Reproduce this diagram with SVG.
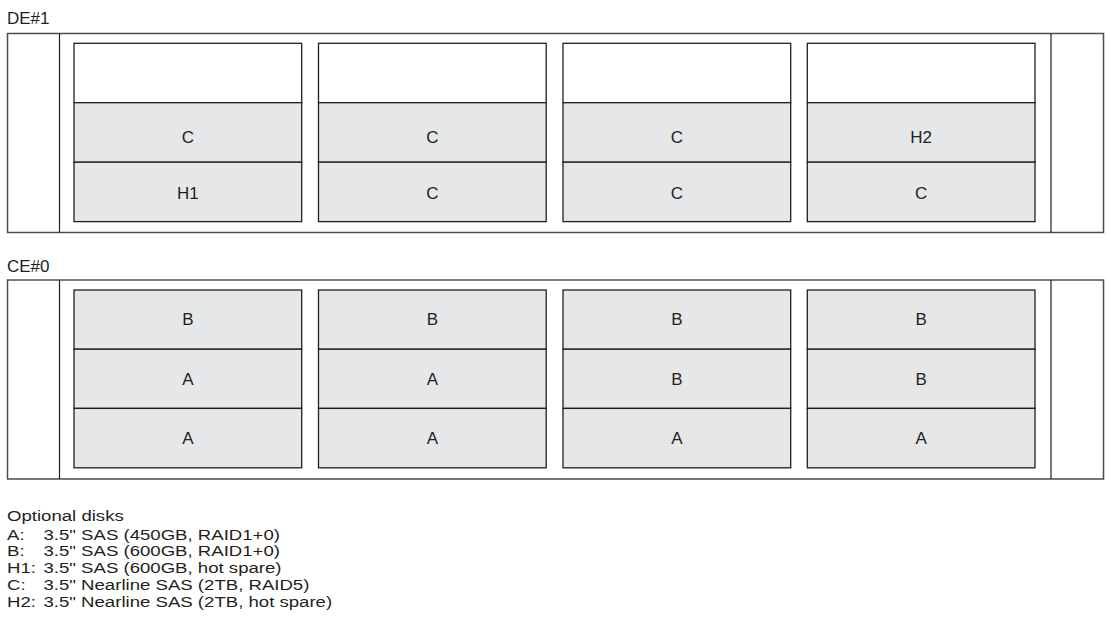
<svg xmlns="http://www.w3.org/2000/svg" width="1107" height="637" viewBox="0 0 1107 637">
  <style>
    .frame { fill: #ffffff; stroke: #4d4d4f; stroke-width: 1.5; }
    .div { stroke: #231f20; stroke-width: 1.2; fill: none; }
    .slot { fill: #e6e7e8; stroke: #231f20; stroke-width: 1.3; }
    .empty { fill: #ffffff; stroke: #231f20; stroke-width: 1.3; }
    .lbl { font-family: "Liberation Sans", Arial, sans-serif; font-size: 17px; fill: #231f20; text-anchor: middle; }
    .title { font-family: "Liberation Sans", Arial, sans-serif; font-size: 17px; fill: #231f20; }
    .leg { font-family: "Liberation Sans", Arial, sans-serif; font-size: 15.5px; fill: #231f20; }
  </style>
  <rect width="1107" height="637" fill="#ffffff"/>

  <!-- DE#1 enclosure -->
  <g id="de1">
    <text class="title" x="7" y="23.5">DE#1</text>
    <rect class="frame" x="7.5" y="33.5" width="1096" height="199"/>
    <line class="div" x1="59.5" y1="33.5" x2="59.5" y2="232.5"/>
    <line class="div" x1="1051" y1="33.5" x2="1051" y2="232.5"/>
  </g>
  <g id="de1-col1">
    <rect class="empty" x="74" y="43.3" width="227.7" height="59.4"/>
    <rect class="slot" x="74" y="102.7" width="227.7" height="59.5"/>
    <rect class="slot" x="74" y="162.2" width="227.7" height="59.4"/>
    <text class="lbl" x="187.8" y="143">C</text>
    <text class="lbl" x="187.8" y="199">H1</text>
  </g>
  <g id="de1-col2">
    <rect class="empty" x="318.5" y="43.3" width="227.7" height="59.4"/>
    <rect class="slot" x="318.5" y="102.7" width="227.7" height="59.5"/>
    <rect class="slot" x="318.5" y="162.2" width="227.7" height="59.4"/>
    <text class="lbl" x="432.3" y="143">C</text>
    <text class="lbl" x="432.3" y="199">C</text>
  </g>
  <g id="de1-col3">
    <rect class="empty" x="563" y="43.3" width="227.7" height="59.4"/>
    <rect class="slot" x="563" y="102.7" width="227.7" height="59.5"/>
    <rect class="slot" x="563" y="162.2" width="227.7" height="59.4"/>
    <text class="lbl" x="676.8" y="143">C</text>
    <text class="lbl" x="676.8" y="199">C</text>
  </g>
  <g id="de1-col4">
    <rect class="empty" x="807.3" y="43.3" width="227.7" height="59.4"/>
    <rect class="slot" x="807.3" y="102.7" width="227.7" height="59.5"/>
    <rect class="slot" x="807.3" y="162.2" width="227.7" height="59.4"/>
    <text class="lbl" x="921.1" y="143">H2</text>
    <text class="lbl" x="921.1" y="199">C</text>
  </g>

  <!-- CE#0 enclosure -->
  <g id="ce0">
    <text class="title" x="7" y="271.5">CE#0</text>
    <rect class="frame" x="7.5" y="280" width="1096" height="199"/>
    <line class="div" x1="59.5" y1="280" x2="59.5" y2="479"/>
    <line class="div" x1="1051" y1="280" x2="1051" y2="479"/>
  </g>
  <g id="ce0-col1">
    <rect class="slot" x="74" y="290" width="227.7" height="59.2"/>
    <rect class="slot" x="74" y="349.2" width="227.7" height="59.2"/>
    <rect class="slot" x="74" y="408.4" width="227.7" height="59.4"/>
    <text class="lbl" x="187.8" y="325.3">B</text>
    <text class="lbl" x="187.8" y="384.7">A</text>
    <text class="lbl" x="187.8" y="444.2">A</text>
  </g>
  <g id="ce0-col2">
    <rect class="slot" x="318.5" y="290" width="227.7" height="59.2"/>
    <rect class="slot" x="318.5" y="349.2" width="227.7" height="59.2"/>
    <rect class="slot" x="318.5" y="408.4" width="227.7" height="59.4"/>
    <text class="lbl" x="432.3" y="325.3">B</text>
    <text class="lbl" x="432.3" y="384.7">A</text>
    <text class="lbl" x="432.3" y="444.2">A</text>
  </g>
  <g id="ce0-col3">
    <rect class="slot" x="563" y="290" width="227.7" height="59.2"/>
    <rect class="slot" x="563" y="349.2" width="227.7" height="59.2"/>
    <rect class="slot" x="563" y="408.4" width="227.7" height="59.4"/>
    <text class="lbl" x="676.8" y="325.3">B</text>
    <text class="lbl" x="676.8" y="384.7">B</text>
    <text class="lbl" x="676.8" y="444.2">A</text>
  </g>
  <g id="ce0-col4">
    <rect class="slot" x="807.3" y="290" width="227.7" height="59.2"/>
    <rect class="slot" x="807.3" y="349.2" width="227.7" height="59.2"/>
    <rect class="slot" x="807.3" y="408.4" width="227.7" height="59.4"/>
    <text class="lbl" x="921.1" y="325.3">B</text>
    <text class="lbl" x="921.1" y="384.7">B</text>
    <text class="lbl" x="921.1" y="444.2">A</text>
  </g>

  <!-- Legend -->
  <g id="legend">
    <text class="leg" transform="translate(7,521) scale(1.2,1)">Optional disks</text>
    <text class="leg" transform="translate(7,539.5) scale(1.2,1)">A:</text>
    <text class="leg" transform="translate(43.5,539.5) scale(1.2,1)">3.5" SAS (450GB, RAID1+0)</text>
    <text class="leg" transform="translate(7,556.3) scale(1.2,1)">B:</text>
    <text class="leg" transform="translate(43.5,556.3) scale(1.2,1)">3.5" SAS (600GB, RAID1+0)</text>
    <text class="leg" transform="translate(7,573.1) scale(1.2,1)">H1:</text>
    <text class="leg" transform="translate(43.5,573.1) scale(1.2,1)">3.5" SAS (600GB, hot spare)</text>
    <text class="leg" transform="translate(7,589.9) scale(1.2,1)">C:</text>
    <text class="leg" transform="translate(43.5,589.9) scale(1.2,1)">3.5" Nearline SAS (2TB, RAID5)</text>
    <text class="leg" transform="translate(7,606.7) scale(1.2,1)">H2:</text>
    <text class="leg" transform="translate(43.5,606.7) scale(1.2,1)">3.5" Nearline SAS (2TB, hot spare)</text>
  </g>
</svg>
